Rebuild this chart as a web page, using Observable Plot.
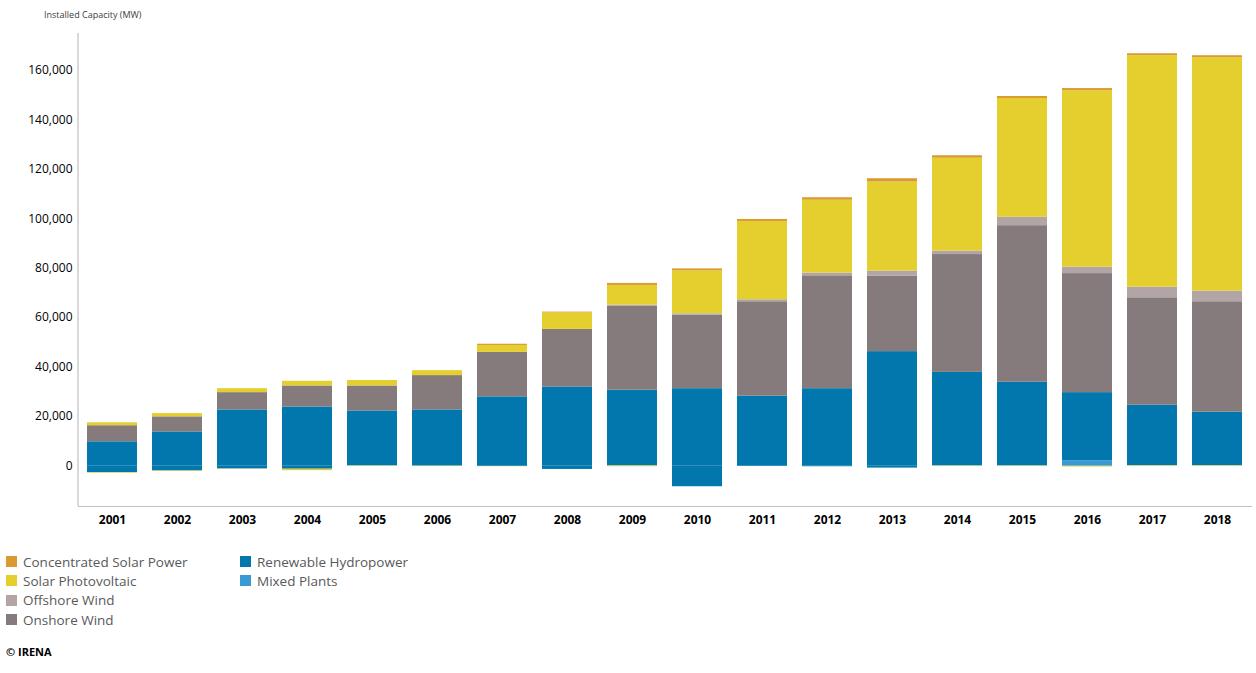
<!DOCTYPE html>
<html>
<head>
<meta charset="utf-8">
<script src="https://cdn.jsdelivr.net/npm/d3@7"></script>
<script src="https://cdn.jsdelivr.net/npm/@observablehq/plot@0.6"></script>
<style>
  body { margin: 0; background: #fff; font-family: "Open Sans", sans-serif; }
  #title { height: 26px; padding-left: 44px; font-size: 9px; line-height: 30px; color: #404040; box-sizing: border-box; }
  #chart svg { display: block; }
  #legend { display: grid; grid-auto-flow: column; grid-template-rows: repeat(4, 19.3px); grid-template-columns: 234px 200px; margin: 12px 0 0 6px; font-size: 13.5px; color: #595959; }
  .item { display: flex; align-items: center; white-space: nowrap; }
  .sw { width: 11px; height: 11px; margin-right: 6px; flex: none; }
  #credit { margin: 15px 0 0 6px; font-size: 11px; font-weight: bold; color: #000; }
</style>
</head>
<body>
<div id="title">Installed Capacity (MW)</div>
<div id="chart"></div>
<div id="legend"></div>
<div id="credit">© IRENA</div>
<script>
const years = ["2001","2002","2003","2004","2005","2006","2007","2008","2009","2010","2011","2012","2013","2014","2015","2016","2017","2018"];
const mixedPlants      = [0,0,0,0,0,0,0,0,0,0,0,0,0,0,0,2000,0,0];
const hydropower       = [9700,13700,22600,23800,22200,22600,27900,31900,30600,31200,28200,31200,46200,37800,33800,27600,24500,21700];
const onshoreWind      = [6500,6100,7000,8500,10100,13900,18000,23300,34100,29800,38200,45700,30600,47700,63400,48200,43500,44700];
const offshoreWind     = [0,0,0,0,0,0,0,0,300,500,800,1100,2000,1400,3400,2600,4300,4300];
const solarPV          = [1200,1300,1600,1900,2200,2000,2800,6700,8000,17400,31700,29500,36100,37600,48100,71400,93700,94500];
const csp              = [0,0,0,0,0,0,500,300,800,800,800,1000,1300,1000,800,900,800,800];
const hydropowerNeg    = [-2800,-2100,-1300,-1400,-100,-200,-300,-1500,-100,-8500,-300,-400,-950,-100,-100,-200,0,0];
const solarPVNeg       = [-200,-200,-100,-600,-100,-100,-100,0,-300,0,0,0,0,-100,-100,-300,-200,-200];

const legendOrder = ["Concentrated Solar Power","Solar Photovoltaic","Offshore Wind","Onshore Wind","Renewable Hydropower","Mixed Plants"];
const colors      = ["#da9a2f","#e4cf2f","#b3a4a6","#857a7c","#0277ae","#3a9ad4"];
const yTicks = [0,20000,40000,60000,80000,100000,120000,140000,160000];

const seriesStack = [
  ["Mixed Plants", mixedPlants],
  ["Renewable Hydropower", hydropower],
  ["Onshore Wind", onshoreWind],
  ["Offshore Wind", offshoreWind],
  ["Solar Photovoltaic", solarPV],
  ["Concentrated Solar Power", csp],
  ["Renewable Hydropower", hydropowerNeg],
  ["Solar Photovoltaic", solarPVNeg]
];
const rows = [];
years.forEach((y, i) => {
  seriesStack.forEach(([name, arr]) => rows.push({year: y, type: name, value: arr[i]}));
});

const plot = Plot.plot({
  width: 1256,
  height: 514,
  marginLeft: 78,
  marginRight: 4,
  marginTop: 7,
  marginBottom: 34,
  style: {fontFamily: "Open Sans, sans-serif", color: "#000", background: "transparent"},
  x: {domain: years, paddingInner: 0.23, paddingOuter: 0.12, label: null},
  y: {domain: [-16500, 175000], label: null},
  color: {domain: legendOrder, range: colors},
  marks: [
    Plot.ruleY([-16500], {stroke: "#c0c0c0", strokeWidth: 1.2}),
    Plot.barY(rows, {x: "year", y: "value", fill: "type", order: null}),
    Plot.axisY({ticks: yTicks, tickSize: 0, tickPadding: 6, tickFormat: d3.format(","), fontSize: 12, label: null}),
    Plot.axisX({tickSize: 0, tickPadding: 9, fontSize: 12, fontWeight: "bold", label: null})
  ]
});
document.getElementById("chart").appendChild(plot);

// left axis line derived from the plot's scales
const xs = plot.scale("x").range, ys = plot.scale("y").range;
d3.select(plot).append("line")
  .attr("x1", xs[0]).attr("x2", xs[0])
  .attr("y1", Math.min(...ys)).attr("y2", Math.max(...ys))
  .attr("stroke", "#c0c0c0").attr("stroke-width", 1.2);

const legend = d3.select("#legend");
legendOrder.forEach((name, i) => {
  const it = legend.append("div").attr("class", "item");
  it.append("div").attr("class", "sw").style("background", colors[i]);
  it.append("span").text(name);
});
</script>
</body>
</html>
